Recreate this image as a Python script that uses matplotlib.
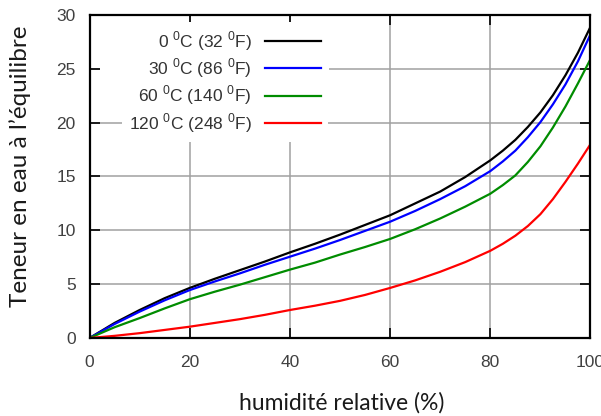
import numpy as np
import matplotlib.pyplot as plt
from matplotlib.patches import Rectangle

plt.rcParams['font.family'] = ['Liberation Sans', 'DejaVu Sans']
plt.rcParams['mathtext.fontset'] = 'custom'
plt.rcParams['mathtext.rm'] = 'Liberation Sans'

# relative humidity (%) and equilibrium moisture content (%) per temperature
humidity = [0, 5, 10, 15, 20, 25, 30, 35, 40, 45, 50, 55, 60, 65, 70, 75, 80,
            82.5, 85, 87.5, 90, 92.5, 95, 97.5, 100]
emc_0c = [0, 1.4, 2.6, 3.7, 4.65, 5.5, 6.3, 7.1, 7.95, 8.75, 9.6, 10.5, 11.4, 12.5, 13.6,
          14.95, 16.5, 17.4, 18.4, 19.6, 20.95, 22.55, 24.4, 26.5, 28.9]
emc_30c = [0, 1.3, 2.45, 3.5, 4.45, 5.25, 6.0, 6.8, 7.55, 8.3, 9.1, 9.95, 10.8, 11.8, 12.9,
           14.1, 15.5, 16.4, 17.4, 18.65, 20.05, 21.7, 23.55, 25.7, 28.2]
emc_60c = [0, 1.0, 1.85, 2.75, 3.6, 4.3, 4.95, 5.65, 6.35, 7.0, 7.75, 8.45, 9.2, 10.1, 11.1,
           12.2, 13.4, 14.2, 15.1, 16.35, 17.8, 19.55, 21.5, 23.65, 25.9]
emc_120c = [0, 0.2, 0.45, 0.75, 1.05, 1.4, 1.75, 2.15, 2.6, 3.0, 3.45, 4.0, 4.65, 5.35, 6.15,
            7.05, 8.1, 8.75, 9.5, 10.4, 11.5, 12.9, 14.5, 16.2, 18.0]

labels = [r'0 $^{\mathrm{0}}$C (32 $^{\mathrm{0}}$F)',
          r'30 $^{\mathrm{0}}$C (86 $^{\mathrm{0}}$F)',
          r'60 $^{\mathrm{0}}$C (140 $^{\mathrm{0}}$F)',
          r'120 $^{\mathrm{0}}$C (248 $^{\mathrm{0}}$F)']
colors = ['black', '#0000ff', '#008c00', '#ff0000']

fig = plt.figure(figsize=(6.01, 4.16), dpi=100)
ax = fig.add_axes([0.149, 0.1875, 0.8335, 0.7765])

for y, lab, c in zip([emc_0c, emc_30c, emc_60c, emc_120c], labels, colors):
    ax.plot(humidity, y, color=c, lw=1.6, label=lab)

ax.set_xlim(0, 100)
ax.set_ylim(0, 30)
ax.set_xticks(np.arange(0, 101, 20))
ax.set_yticks(np.arange(0, 31, 5))
ax.grid(True, color='#a0a0a0', lw=1.1)
ax.set_axisbelow(True)
ax.tick_params(direction='in', length=7, width=1.2, top=True, right=True,
               labelsize=12.5, labelcolor='#404040')
ax.tick_params(axis='x', pad=12)
ax.tick_params(axis='y', pad=10)
for s in ax.spines.values():
    s.set_linewidth(1.6)

# white key area hides the grid but leaves the inward ticks
ax.add_patch(Rectangle((2.0, 20.25), 45.8, 8.8, facecolor='white', edgecolor='none', zorder=1.5))

leg = ax.legend(loc='upper right', bbox_to_anchor=(0.476, 0.978), borderaxespad=0,
                markerfirst=False, frameon=True, fontsize=12.5,
                handlelength=3.2, handletextpad=0.8, labelspacing=0.22)
leg.get_frame().set_edgecolor('none')
leg.get_frame().set_facecolor('white')
leg.get_frame().set_alpha(1)
leg.set_zorder(5)
for t in leg.get_texts():
    t.set_ha('right')
    t.set_color('#333333')

fig.text(342 / 601, 1 - 403 / 416, 'humidité relative (%)', family='Lato', fontsize=16.5,
         ha='center', va='center', color='#1a1a1a')
fig.text(20 / 601, 1 - 166 / 416, "Teneur en eau à l’équilibre", family='Lato', fontsize=17.5,
         rotation=90, ha='center', va='center', color='#1a1a1a')

fig.savefig('out.png', dpi=100)
